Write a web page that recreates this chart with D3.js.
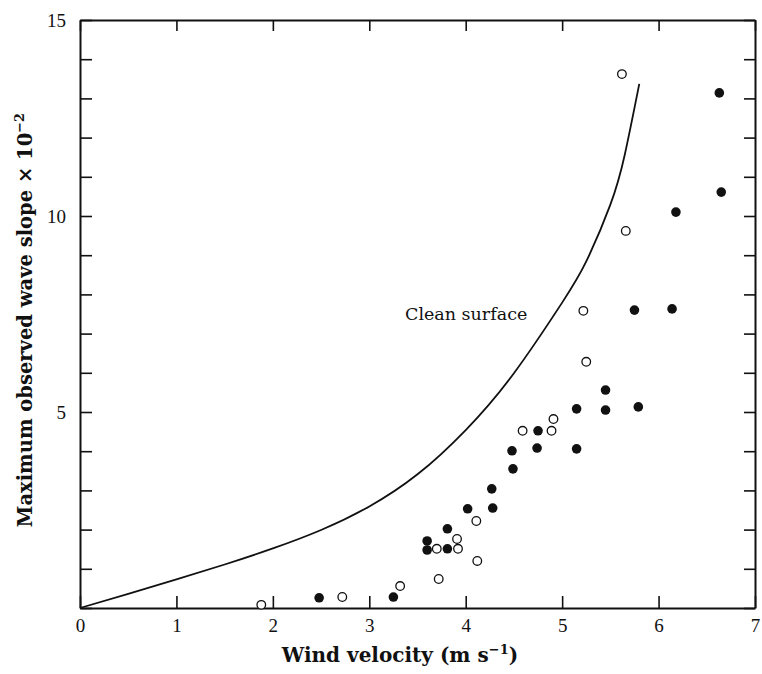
<html lang="en">
<head>
    <meta charset="UTF-8">
    <title>Wave slope vs wind velocity</title>
    <script src="https://d3js.org/d3.v7.min.js"></script>
    <style>
        body { margin: 0; background: #fff; }
        text { fill: #111; }
    </style>
</head>
<body>
    <div id="chart"></div>
    <script>
        // open circles
        var openX = [1.88, 2.72, 3.32, 3.72, 4.12, 3.70, 3.92, 3.91, 4.11, 4.59, 4.89, 4.91, 5.25, 5.22, 5.66, 5.62];
        var openY = [0.08, 0.28, 0.56, 0.74, 1.20, 1.51, 1.51, 1.76, 2.22, 4.52, 4.52, 4.82, 6.28, 7.58, 9.62, 13.62];
        // filled circles
        var fillX = [2.48, 3.25, 3.60, 3.60, 3.81, 3.81, 4.02, 4.27, 4.28, 4.49, 4.48, 4.74, 4.75, 5.15, 5.15, 5.45, 5.45, 5.79, 5.75, 6.14, 6.18, 6.65, 6.63];
        var fillY = [0.26, 0.28, 1.71, 1.48, 2.02, 1.51, 2.53, 3.04, 2.55, 3.55, 4.01, 4.08, 4.52, 4.06, 5.08, 5.05, 5.56, 5.13, 7.60, 7.63, 10.10, 10.61, 13.14];
        // clean surface curve
        var curveX = [0, 0.5, 1.0, 1.5, 2.0, 2.5, 3.0, 3.5, 4.0, 4.5, 5.0, 5.25, 5.5, 5.65, 5.8];
        var curveY = [0, 0.36, 0.73, 1.11, 1.52, 1.99, 2.59, 3.41, 4.54, 5.99, 7.79, 8.84, 10.29, 11.57, 13.37];
        var xTicks = [0, 1, 2, 3, 4, 5, 6, 7];
        var yTicks = d3.range(0, 16);
        var yLabels = [5, 10, 15];

        var width = 762, height = 674;
        var mLeft = 80, mRight = 755, mTop = 20, mBottom = 608;
        var serif = "'Liberation Serif', serif";
        var wide = "'DejaVu Serif', serif";

        var svg = d3.select("#chart").append("svg")
            .attr("width", width)
            .attr("height", height);

        var x = d3.scaleLinear().domain([0, 7]).range([mLeft, mRight]);
        var y = d3.scaleLinear().domain([0, 15]).range([mBottom, mTop]);

        function styleAxis(g) {
            g.selectAll("path.domain").attr("stroke", "#111").attr("stroke-width", 2);
            g.selectAll(".tick line").attr("stroke", "#111").attr("stroke-width", 1.6);
            g.selectAll(".tick text").attr("font-family", serif).attr("font-size", 19).attr("fill", "#333");
        }

        svg.append("g")
            .attr("transform", "translate(0," + mBottom + ")")
            .call(d3.axisBottom(x).tickValues(xTicks).tickSizeInner(-12).tickSizeOuter(0).tickPadding(11).tickFormat(d3.format("d")))
            .call(styleAxis);

        svg.append("g")
            .attr("transform", "translate(0," + mTop + ")")
            .call(d3.axisTop(x).tickValues(xTicks).tickSizeInner(-11).tickSizeOuter(0).tickFormat(""))
            .call(styleAxis);

        svg.append("g")
            .attr("transform", "translate(" + mLeft + ",0)")
            .call(d3.axisLeft(y).tickValues(yTicks).tickSizeInner(-12).tickSizeOuter(0).tickPadding(14)
                .tickFormat(function(d) { return yLabels.indexOf(d) >= 0 ? d : ""; }))
            .call(styleAxis);

        svg.append("g")
            .attr("transform", "translate(" + mRight + ",0)")
            .call(d3.axisRight(y).tickValues(yTicks).tickSizeInner(-11).tickSizeOuter(0).tickFormat(""))
            .call(styleAxis);

        // curve
        var line = d3.line()
            .x(function(d, i) { return x(curveX[i]); })
            .y(function(d, i) { return y(curveY[i]); })
            .curve(d3.curveNatural);

        svg.append("path")
            .datum(curveX)
            .attr("d", line)
            .attr("fill", "none")
            .attr("stroke", "#111")
            .attr("stroke-width", 1.8);

        svg.append("text")
            .attr("x", 405)
            .attr("y", 320)
            .attr("font-family", wide)
            .attr("font-size", 17.5)
            .text("Clean surface");

        svg.selectAll(".open")
            .data(openX)
            .enter().append("circle")
            .attr("class", "open")
            .attr("cx", function(d) { return x(d); })
            .attr("cy", function(d, i) { return y(openY[i]); })
            .attr("r", 4.3)
            .attr("fill", "#fff")
            .attr("stroke", "#111")
            .attr("stroke-width", 1.3);

        svg.selectAll(".filled")
            .data(fillX)
            .enter().append("circle")
            .attr("class", "filled")
            .attr("cx", function(d) { return x(d); })
            .attr("cy", function(d, i) { return y(fillY[i]); })
            .attr("r", 4.8)
            .attr("fill", "#111");

        // axis titles
        var xt = svg.append("text")
            .attr("x", 400)
            .attr("y", 662)
            .attr("text-anchor", "middle")
            .attr("font-family", wide)
            .attr("font-size", 20)
            .attr("font-weight", "bold");
        xt.append("tspan").text("Wind velocity (m s");
        xt.append("tspan").attr("dy", -8).attr("font-size", 13).text("\u22121");
        xt.append("tspan").attr("dy", 8).text(")");

        var yt = svg.append("text")
            .attr("transform", "translate(32,320) rotate(-90)")
            .attr("text-anchor", "middle")
            .attr("font-family", wide)
            .attr("font-size", 19.5)
            .attr("font-weight", "bold");
        yt.append("tspan").text("Maximum observed wave slope \u00d7 10");
        yt.append("tspan").attr("dy", -8).attr("font-size", 13).text("\u22122");
    </script>
</body>
</html>
